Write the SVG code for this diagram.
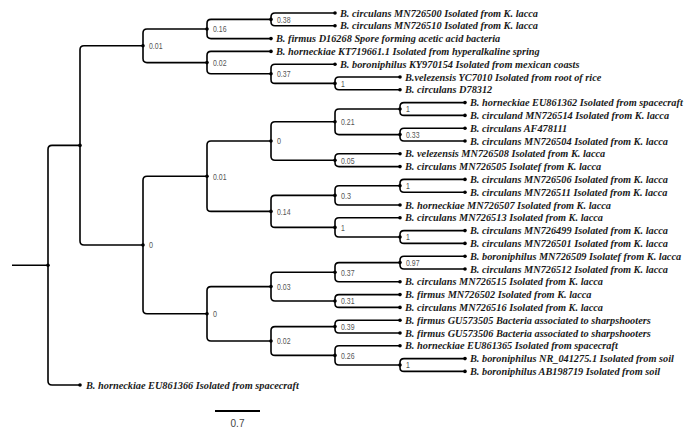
<svg xmlns="http://www.w3.org/2000/svg" width="684" height="432" viewBox="0 0 684 432">
<defs>
<marker id="dot" markerWidth="5" markerHeight="5" refX="2.5" refY="2.5" markerUnits="userSpaceOnUse"><circle cx="2.5" cy="2.5" r="1.8" fill="#000"/></marker>
<style>
.e{fill:none;stroke:#000;stroke-width:1.6;marker-end:url(#dot)}
.leaf{font-family:"Liberation Serif","Times New Roman",serif;font-style:italic;font-weight:bold;font-size:10.3px;fill:#1a1a1a}
.lb{font-family:"Liberation Sans",Arial,sans-serif;font-size:9.5px;fill:#555}
.sc{font-family:"Liberation Sans",Arial,sans-serif;font-size:10px;fill:#444}
</style>
</defs>
<rect width="684" height="432" fill="#fff"/>
<g id="connectors">
<path class="e" d="M12,265.2 H48"/>
<path class="e" d="M48,265.2 V149.4 Q48,145.4 52,145.4 H80"/>
<path class="e" d="M48,265.2 V381 Q48,385 52,385 H80"/>
<path class="e" d="M80,145.4 V49.8 Q80,45.8 84,45.8 H143"/>
<path class="e" d="M80,145.4 V241 Q80,245 84,245 H143"/>
<path class="e" d="M143,45.8 V33 Q143,29 147,29 H207"/>
<path class="e" d="M143,45.8 V58.6 Q143,62.6 147,62.6 H207"/>
<path class="e" d="M207,29 V23.4 Q207,19.4 211,19.4 H271"/>
<path class="e" d="M207,29 V34.6 Q207,38.6 211,38.6 H271"/>
<path class="e" d="M271,19.4 V17 Q271,13 275,13 H335"/>
<path class="e" d="M271,19.4 V21.8 Q271,25.8 275,25.8 H335"/>
<path class="e" d="M207,62.6 V55.4 Q207,51.4 211,51.4 H271"/>
<path class="e" d="M207,62.6 V69.8 Q207,73.8 211,73.8 H271"/>
<path class="e" d="M271,73.8 V68.2 Q271,64.2 275,64.2 H335"/>
<path class="e" d="M271,73.8 V79.4 Q271,83.4 275,83.4 H335"/>
<path class="e" d="M335,83.4 V81 Q335,77 339,77 H400"/>
<path class="e" d="M335,83.4 V85.8 Q335,89.8 339,89.8 H400"/>
<path class="e" d="M143,245 V180.2 Q143,176.2 147,176.2 H207"/>
<path class="e" d="M143,245 V309.8 Q143,313.8 147,313.8 H207"/>
<path class="e" d="M207,176.2 V145 Q207,141 211,141 H271"/>
<path class="e" d="M207,176.2 V207.4 Q207,211.4 211,211.4 H271"/>
<path class="e" d="M271,141 V125.8 Q271,121.8 275,121.8 H335"/>
<path class="e" d="M271,141 V156.2 Q271,160.2 275,160.2 H335"/>
<path class="e" d="M335,121.8 V113 Q335,109 339,109 H400"/>
<path class="e" d="M335,121.8 V130.6 Q335,134.6 339,134.6 H400"/>
<path class="e" d="M400,109 V106.6 Q400,102.6 404,102.6 H465"/>
<path class="e" d="M400,109 V111.4 Q400,115.4 404,115.4 H465"/>
<path class="e" d="M400,134.6 V132.2 Q400,128.2 404,128.2 H465"/>
<path class="e" d="M400,134.6 V137 Q400,141 404,141 H465"/>
<path class="e" d="M335,160.2 V157.8 Q335,153.8 339,153.8 H400"/>
<path class="e" d="M335,160.2 V162.6 Q335,166.6 339,166.6 H400"/>
<path class="e" d="M271,211.4 V199.4 Q271,195.4 275,195.4 H335"/>
<path class="e" d="M271,211.4 V223.4 Q271,227.4 275,227.4 H335"/>
<path class="e" d="M335,195.4 V189.8 Q335,185.8 339,185.8 H400"/>
<path class="e" d="M335,195.4 V201 Q335,205 339,205 H400"/>
<path class="e" d="M400,185.8 V183.4 Q400,179.4 404,179.4 H465"/>
<path class="e" d="M400,185.8 V188.2 Q400,192.2 404,192.2 H465"/>
<path class="e" d="M335,227.4 V221.8 Q335,217.8 339,217.8 H400"/>
<path class="e" d="M335,227.4 V233 Q335,237 339,237 H400"/>
<path class="e" d="M400,237 V234.6 Q400,230.6 404,230.6 H465"/>
<path class="e" d="M400,237 V239.4 Q400,243.4 404,243.4 H465"/>
<path class="e" d="M207,313.8 V290.6 Q207,286.6 211,286.6 H271"/>
<path class="e" d="M207,313.8 V337 Q207,341 211,341 H271"/>
<path class="e" d="M271,286.6 V276.2 Q271,272.2 275,272.2 H335"/>
<path class="e" d="M271,286.6 V297 Q271,301 275,301 H335"/>
<path class="e" d="M335,272.2 V266.6 Q335,262.6 339,262.6 H400"/>
<path class="e" d="M335,272.2 V277.8 Q335,281.8 339,281.8 H400"/>
<path class="e" d="M400,262.6 V260.2 Q400,256.2 404,256.2 H465"/>
<path class="e" d="M400,262.6 V265 Q400,269 404,269 H465"/>
<path class="e" d="M335,301 V298.6 Q335,294.6 339,294.6 H400"/>
<path class="e" d="M335,301 V303.4 Q335,307.4 339,307.4 H400"/>
<path class="e" d="M271,341 V330.6 Q271,326.6 275,326.6 H335"/>
<path class="e" d="M271,341 V351.4 Q271,355.4 275,355.4 H335"/>
<path class="e" d="M335,326.6 V324.2 Q335,320.2 339,320.2 H400"/>
<path class="e" d="M335,326.6 V329 Q335,333 339,333 H400"/>
<path class="e" d="M335,355.4 V349.8 Q335,345.8 339,345.8 H400"/>
<path class="e" d="M335,355.4 V361 Q335,365 339,365 H400"/>
<path class="e" d="M400,365 V362.6 Q400,358.6 404,358.6 H465"/>
<path class="e" d="M400,365 V367.4 Q400,371.4 404,371.4 H465"/>
</g>
<g id="n-B"><text class="lb" x="149" y="49.1" textLength="13.5" lengthAdjust="spacingAndGlyphs">0.01</text></g>
<g id="n-N16"><text class="lb" x="213" y="32.3" textLength="13.5" lengthAdjust="spacingAndGlyphs">0.16</text></g>
<g id="n-N38"><text class="lb" x="277" y="22.7" textLength="13.5" lengthAdjust="spacingAndGlyphs">0.38</text></g>
<g id="n-N02a"><text class="lb" x="213" y="65.9" textLength="13.5" lengthAdjust="spacingAndGlyphs">0.02</text></g>
<g id="n-N37a"><text class="lb" x="277" y="77.1" textLength="13.5" lengthAdjust="spacingAndGlyphs">0.37</text></g>
<g id="n-N1a"><text class="lb" x="341" y="86.7" textLength="3.8" lengthAdjust="spacingAndGlyphs">1</text></g>
<g id="n-C"><text class="lb" x="149" y="248.3" textLength="4" lengthAdjust="spacingAndGlyphs">0</text></g>
<g id="n-N01b"><text class="lb" x="213" y="179.5" textLength="13.5" lengthAdjust="spacingAndGlyphs">0.01</text></g>
<g id="n-N0a"><text class="lb" x="277" y="144.3" textLength="4" lengthAdjust="spacingAndGlyphs">0</text></g>
<g id="n-N21"><text class="lb" x="341" y="125.1" textLength="13.5" lengthAdjust="spacingAndGlyphs">0.21</text></g>
<g id="n-N1b"><text class="lb" x="406" y="112.3" textLength="3.8" lengthAdjust="spacingAndGlyphs">1</text></g>
<g id="n-N33"><text class="lb" x="406" y="137.9" textLength="13.5" lengthAdjust="spacingAndGlyphs">0.33</text></g>
<g id="n-N05"><text class="lb" x="341" y="163.5" textLength="13.5" lengthAdjust="spacingAndGlyphs">0.05</text></g>
<g id="n-N14"><text class="lb" x="277" y="214.7" textLength="13.5" lengthAdjust="spacingAndGlyphs">0.14</text></g>
<g id="n-N3"><text class="lb" x="341" y="198.7" textLength="10" lengthAdjust="spacingAndGlyphs">0.3</text></g>
<g id="n-N1c"><text class="lb" x="406" y="189.1" textLength="3.8" lengthAdjust="spacingAndGlyphs">1</text></g>
<g id="n-N1e"><text class="lb" x="341" y="230.7" textLength="3.8" lengthAdjust="spacingAndGlyphs">1</text></g>
<g id="n-N1d"><text class="lb" x="406" y="240.3" textLength="3.8" lengthAdjust="spacingAndGlyphs">1</text></g>
<g id="n-N0c"><text class="lb" x="213" y="317.1" textLength="4" lengthAdjust="spacingAndGlyphs">0</text></g>
<g id="n-N03"><text class="lb" x="277" y="289.9" textLength="13.5" lengthAdjust="spacingAndGlyphs">0.03</text></g>
<g id="n-N37b"><text class="lb" x="341" y="275.5" textLength="13.5" lengthAdjust="spacingAndGlyphs">0.37</text></g>
<g id="n-N97"><text class="lb" x="406" y="265.9" textLength="13.5" lengthAdjust="spacingAndGlyphs">0.97</text></g>
<g id="n-N31"><text class="lb" x="341" y="304.3" textLength="13.5" lengthAdjust="spacingAndGlyphs">0.31</text></g>
<g id="n-N02b"><text class="lb" x="277" y="344.3" textLength="13.5" lengthAdjust="spacingAndGlyphs">0.02</text></g>
<g id="n-N39"><text class="lb" x="341" y="329.9" textLength="13.5" lengthAdjust="spacingAndGlyphs">0.39</text></g>
<g id="n-N26"><text class="lb" x="341" y="358.7" textLength="13.5" lengthAdjust="spacingAndGlyphs">0.26</text></g>
<g id="n-N1f"><text class="lb" x="406" y="368.3" textLength="3.8" lengthAdjust="spacingAndGlyphs">1</text></g>
<g id="leaf-1"><text class="leaf" x="340" y="16.6">B. circulans MN726500 Isolated from K. lacca</text></g>
<g id="leaf-2"><text class="leaf" x="340" y="29.4">B. circulans MN726510 Isolated from K. lacca</text></g>
<g id="leaf-3"><text class="leaf" x="276" y="42.2">B. firmus D16268 Spore forming acetic acid bacteria</text></g>
<g id="leaf-4"><text class="leaf" x="276" y="55">B. horneckiae KT719661.1 Isolated from hyperalkaline spring</text></g>
<g id="leaf-5"><text class="leaf" x="340" y="67.8">B. boroniphilus KY970154 Isolated from mexican coasts</text></g>
<g id="leaf-6"><text class="leaf" x="405" y="80.6">B.velezensis YC7010 Isolated from root of rice</text></g>
<g id="leaf-7"><text class="leaf" x="405" y="93.4">B. circulans D78312</text></g>
<g id="leaf-8"><text class="leaf" x="470" y="106.2">B. horneckiae EU861362 Isolated from spacecraft</text></g>
<g id="leaf-9"><text class="leaf" x="470" y="119">B. circuland MN726514 Isolated from K. lacca</text></g>
<g id="leaf-10"><text class="leaf" x="470" y="131.8">B. circulans AF478111</text></g>
<g id="leaf-11"><text class="leaf" x="470" y="144.6">B. circulans MN726504 Isolated from K. lacca</text></g>
<g id="leaf-12"><text class="leaf" x="405" y="157.4">B. velezensis MN726508 Isolated from K. lacca</text></g>
<g id="leaf-13"><text class="leaf" x="405" y="170.2">B. circulans MN726505 Isolatef from K. lacca</text></g>
<g id="leaf-14"><text class="leaf" x="470" y="183">B. circulans MN726506 Isolated from K. lacca</text></g>
<g id="leaf-15"><text class="leaf" x="470" y="195.8">B. circulans MN726511 Isolated from K. lacca</text></g>
<g id="leaf-16"><text class="leaf" x="405" y="208.6">B. horneckiae MN726507 Isolated from K. lacca</text></g>
<g id="leaf-17"><text class="leaf" x="405" y="221.4">B. circulans MN726513 Isolated from K. lacca</text></g>
<g id="leaf-18"><text class="leaf" x="470" y="234.2">B. circulans MN726499 Isolated from K. lacca</text></g>
<g id="leaf-19"><text class="leaf" x="470" y="247">B. circulans MN726501 Isolated from K. lacca</text></g>
<g id="leaf-20"><text class="leaf" x="470" y="259.8">B. boroniphilus MN726509 Isolatef from K. lacca</text></g>
<g id="leaf-21"><text class="leaf" x="470" y="272.6">B. circulans MN726512 Isolated from K. lacca</text></g>
<g id="leaf-22"><text class="leaf" x="405" y="285.4">B. circulans MN726515 Isolated from K. lacca</text></g>
<g id="leaf-23"><text class="leaf" x="405" y="298.2">B. firmus MN726502 Isolated from K. lacca</text></g>
<g id="leaf-24"><text class="leaf" x="405" y="311">B. circulans MN726516 Isolated from K. lacca</text></g>
<g id="leaf-25"><text class="leaf" x="405" y="323.8">B. firmus GU573505 Bacteria associated to sharpshooters</text></g>
<g id="leaf-26"><text class="leaf" x="405" y="336.6">B. firmus GU573506 Bacteria associated to sharpshooters</text></g>
<g id="leaf-27"><text class="leaf" x="405" y="349.4">B. horneckiae EU861365 Isolated from spacecraft</text></g>
<g id="leaf-28"><text class="leaf" x="470" y="362.2">B. boroniphilus NR_041275.1 Isolated from soil</text></g>
<g id="leaf-29"><text class="leaf" x="470" y="375">B. boroniphilus AB198719 Isolated from soil</text></g>
<g id="leaf-30"><text class="leaf" x="86" y="388.6">B. horneckiae EU861366 Isolated from spacecraft</text></g>
<g id="scale-bar">
<line x1="215" y1="411" x2="260" y2="411" stroke="#000" stroke-width="2"/>
<text class="sc" x="237.5" y="427" text-anchor="middle">0.7</text>
</g>
</svg>
